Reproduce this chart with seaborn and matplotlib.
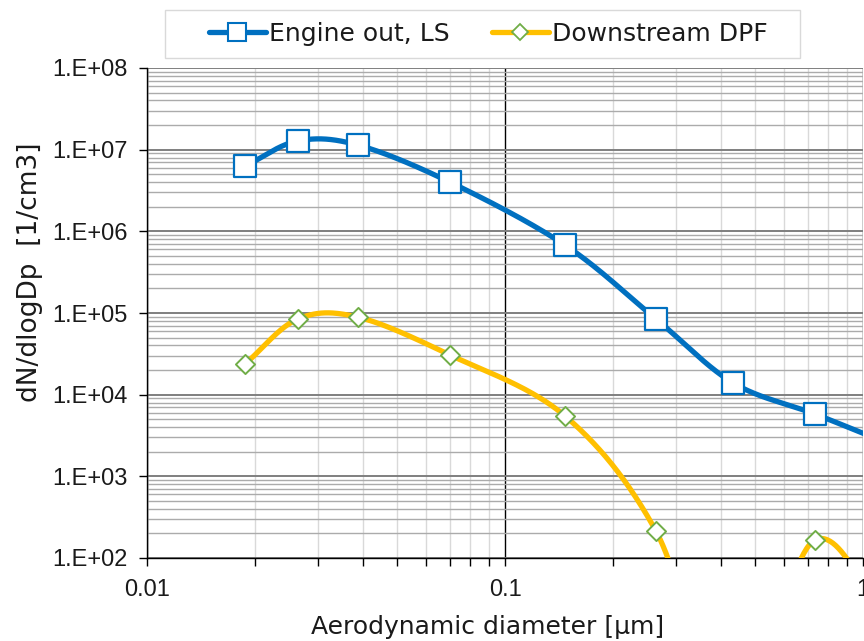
import numpy as np
import pandas as pd
import matplotlib
matplotlib.use("Agg")
import matplotlib.pyplot as plt
import matplotlib.ticker as mticker
from matplotlib.lines import Line2D
from matplotlib.patches import Rectangle
import seaborn as sns

# ---- data ----
diameter = [0.0188, 0.0264, 0.0388, 0.0702, 0.147, 0.264, 0.434, 0.734, 1.24]
engine_out = [6.3e6, 1.28e7, 1.14e7, 4.0e6, 6.8e5, 8.45e4, 1.39e4, 5.8e3, 2.3e3]
downstream = [2.38e4, 8.45e4, 8.9e4, 3.06e4, 5.5e3, 214, 1.0, 166, 10.0]
series_names = ["Engine out, LS", "Downstream DPF"]
x_ticks = [0.01, 0.1, 1]
x_ticklabels = ["0.01", "0.1", "1"]
y_ticks = [1e2, 1e3, 1e4, 1e5, 1e6, 1e7, 1e8]
y_ticklabels = ["1.E+02", "1.E+03", "1.E+04", "1.E+05", "1.E+06", "1.E+07", "1.E+08"]
x_label = "Aerodynamic diameter [µm]"
y_label = "dN/dlogDp  [1/cm3]"

BLUE = "#0070C0"
YELLOW = "#FFC000"
GREEN = "#70AD47"


def smooth_curve(xs, ys, n=60):
    """Excel-like smoothed line (Catmull-Rom Bezier) computed in log-log space."""
    P = np.column_stack([np.log10(xs), np.log10(ys)])
    T = np.zeros_like(P)
    T[1:-1] = (P[2:] - P[:-2]) / 2.0
    T[0] = P[1] - P[0]
    T[-1] = P[-1] - P[-2]
    out = []
    t = np.linspace(0, 1, n)[:, None]
    for i in range(len(P) - 1):
        p0, p3 = P[i], P[i + 1]
        c1 = p0 + T[i] / 3.0
        c2 = p3 - T[i + 1] / 3.0
        seg = ((1 - t) ** 3) * p0 + 3 * ((1 - t) ** 2) * t * c1 + 3 * (1 - t) * t ** 2 * c2 + t ** 3 * p3
        out.append(seg if i == 0 else seg[1:])
    out = np.vstack(out)
    return 10 ** out[:, 0], 10 ** out[:, 1]


sns.set_theme(style="white")
plt.rcParams["font.family"] = ["Liberation Sans", "DejaVu Sans"]

fig = plt.figure(figsize=(8.64, 6.41), dpi=100)
ax = fig.add_axes([147 / 864, 1 - 558 / 641, (863 - 147) / 864, (558 - 68) / 641])

ax.set_xscale("log")
ax.set_yscale("log")
ax.set_xlim(0.01, 1)
ax.set_ylim(1e2, 1e8)

# grid
ax.yaxis.set_minor_locator(mticker.LogLocator(base=10, subs=np.arange(2, 10)))
ax.xaxis.set_minor_locator(mticker.LogLocator(base=10, subs=np.arange(2, 10)))
ax.grid(True, which="major", axis="y", color="#7f7f7f", linewidth=1.4, zorder=0)
ax.grid(True, which="minor", axis="y", color="#ababab", linewidth=1.0, zorder=0)
ax.grid(True, which="major", axis="x", color="#000000", linewidth=1.0, zorder=0)
ax.grid(True, which="minor", axis="x", color="#d9d9d9", linewidth=1.0, zorder=0)
ax.set_axisbelow(True)

# curves
sx, sy = smooth_curve(diameter, engine_out)
sns.lineplot(x=sx, y=sy, ax=ax, color=BLUE, linewidth=3.8, sort=False, estimator=None, zorder=3)
sx2, sy2 = smooth_curve(diameter, downstream)
sns.lineplot(x=sx2, y=sy2, ax=ax, color=YELLOW, linewidth=3.8, sort=False, estimator=None, zorder=3)

df = pd.DataFrame({"d": diameter, "eo": engine_out, "ds": downstream})
sns.scatterplot(data=df, x="d", y="eo", ax=ax, marker="s", s=235, facecolor="white",
                edgecolor=BLUE, linewidth=1.6, zorder=4, legend=False)
sns.scatterplot(data=df, x="d", y="ds", ax=ax, marker="D", s=95, facecolor="white",
                edgecolor=GREEN, linewidth=1.4, zorder=4, legend=False)

# ticks
ax.set_xticks(x_ticks)
ax.set_xticklabels(x_ticklabels)
ax.set_yticks(y_ticks)
ax.set_yticklabels(y_ticklabels)
ax.tick_params(axis="both", which="major", labelsize=17, length=6, width=1, color="black",
               direction="out", bottom=True, left=True)
ax.tick_params(axis="y", which="major", pad=8)
ax.tick_params(axis="x", which="major", pad=9)
ax.tick_params(axis="x", which="minor", length=6, width=1, color="black", direction="out", bottom=True)
ax.tick_params(axis="y", which="minor", left=False)
ax.xaxis.set_minor_formatter(mticker.NullFormatter())
ax.yaxis.set_minor_formatter(mticker.NullFormatter())
for lbl in ax.get_xticklabels() + ax.get_yticklabels():
    lbl.set_color("#1a1a1a")

for side in ["top", "right"]:
    ax.spines[side].set_visible(False)
for side in ["left", "bottom"]:
    ax.spines[side].set_color("black")
    ax.spines[side].set_linewidth(1.0)

ax.set_xlabel(x_label, fontsize=18, family=["DejaVu Sans"], color="#1a1a1a")
ax.xaxis.label.set_va("center")
ax.xaxis.set_label_coords((488 - 147) / 716, (558 - 627) / 490)
ax.set_ylabel(y_label, fontsize=19, family=["DejaVu Sans"], color="#1a1a1a")
ax.yaxis.label.set_va("center")
ax.yaxis.set_label_coords((30 - 147) / 716, (558 - 272) / 490)

# legend (box drawn separately to match the wide Excel legend frame)
fig.patches.append(Rectangle((165 / 864, 1 - 58 / 641), (800 - 165) / 864, 48 / 641,
                             transform=fig.transFigure, facecolor="white",
                             edgecolor="#d9d9d9", linewidth=1.0, zorder=0))
handles = [
    Line2D([], [], color=BLUE, linewidth=3.8, marker="s", markersize=13,
           markerfacecolor="white", markeredgecolor=BLUE, markeredgewidth=1.5),
    Line2D([], [], color=YELLOW, linewidth=3.8, marker="D", markersize=8,
           markerfacecolor="white", markeredgecolor=GREEN, markeredgewidth=1.3),
]
leg = fig.legend(handles, series_names, loc="center", bbox_to_anchor=(488 / 864, 1 - 34 / 641),
                 ncol=2, frameon=False, handlelength=2.3, handletextpad=0.1,
                 columnspacing=1.7, borderpad=0.2, borderaxespad=0,
                 prop={"family": ["DejaVu Sans"], "size": 18})
for txt in leg.get_texts():
    txt.set_color("#1a1a1a")

fig.savefig("out.png", dpi=100)
